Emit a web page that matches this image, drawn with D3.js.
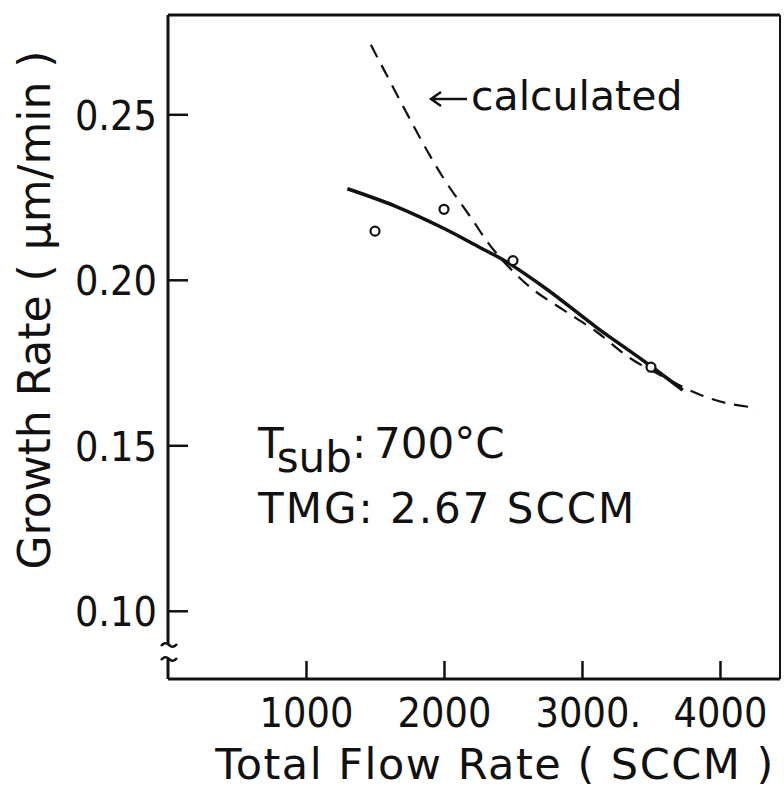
<!DOCTYPE html>
<html>
<head>
<meta charset="utf-8">
<script src="https://cdn.jsdelivr.net/npm/d3@7"></script>
<style>
  body { margin: 0; background: #fff; }
  svg text { fill: #111; font-family: "DejaVu Sans", sans-serif; }
  .tick line { stroke: #111; stroke-width: 2.5; }
</style>
</head>
<body>
<svg id="chart" width="784" height="790"></svg>
<script>
// tick values
const xTicks = [1000, 2000, 3000, 4000];
const yTicks = [0.10, 0.15, 0.20, 0.25];

// measured points (open circles)
const measuredFlow = [1500, 2000, 2500, 3500];
const measuredRate = [0.2147, 0.2213, 0.2058, 0.1736];

// solid fitted curve
const fitFlow = [1300, 1650, 2000, 2250, 2450, 2750, 3100, 3470, 3730];
const fitRate = [0.2275, 0.2222, 0.2155, 0.2100, 0.2055, 0.1970, 0.1858, 0.1748, 0.1667];

// dashed calculated curve
const calcFlow = [1470, 1875, 2020, 2190, 2360, 2620, 2865, 3105, 3350, 3590, 3830, 4050, 4270];
const calcRate = [0.2710, 0.2392, 0.2292, 0.2191, 0.2090, 0.1979, 0.1909, 0.1843, 0.1763, 0.1707, 0.1657, 0.1627, 0.1613];

const svg = d3.select("#chart");

const plotLeft = 168, plotRight = 780, plotTop = 15, plotBottom = 679;

const x = d3.scaleLinear().domain([0, 4435]).range([plotLeft, plotRight]);
const y = d3.scaleLinear().domain([0.08, 0.28]).range([677, plotTop]);

// frame
const frame = svg.append("g")
  .attr("fill", "none")
  .attr("stroke", "#111");

frame.append("line").attr("x1", plotLeft).attr("y1", plotTop).attr("x2", plotRight).attr("y2", plotTop).attr("stroke-width", 3);
frame.append("line").attr("x1", plotRight).attr("y1", plotTop).attr("x2", plotRight).attr("y2", plotBottom).attr("stroke-width", 2);
frame.append("line").attr("x1", plotLeft).attr("y1", plotBottom).attr("x2", plotRight).attr("y2", plotBottom).attr("stroke-width", 3);
frame.append("line").attr("x1", plotLeft).attr("y1", plotTop).attr("x2", plotLeft).attr("y2", 644).attr("stroke-width", 3);
frame.append("line").attr("x1", plotLeft).attr("y1", 659).attr("x2", plotLeft).attr("y2", plotBottom).attr("stroke-width", 3);

// axis break marks
frame.append("path")
  .attr("d", "M161,646 q4,-5 8,-1 t8,-1")
  .attr("stroke-width", 2.5);
frame.append("path")
  .attr("d", "M161,660 q4,-5 8,-1 t8,-1")
  .attr("stroke-width", 2.5);

// y axis
const yAxis = svg.append("g")
  .attr("transform", `translate(${plotLeft},0)`)
  .call(d3.axisLeft(y)
    .tickValues(yTicks)
    .tickSize(-20)
    .tickPadding(11)
    .tickFormat(d3.format(".2f")));
yAxis.select(".domain").remove();
yAxis.selectAll("text")
  .attr("fill", "#111")
  .style("font-family", "'DejaVu Sans Condensed', 'DejaVu Sans', sans-serif")
  .style("font-size", "41px")
  .attr("dy", "0.36em");

// x axis
const xAxis = svg.append("g")
  .attr("transform", `translate(0,${plotBottom})`)
  .call(d3.axisBottom(x)
    .tickValues(xTicks)
    .tickSize(-18)
    .tickPadding(19)
    .tickFormat(d3.format("d")));
xAxis.select(".domain").remove();
xAxis.selectAll("text")
  .attr("fill", "#111")
  .style("font-family", "'DejaVu Sans Condensed', 'DejaVu Sans', sans-serif")
  .style("font-size", "41px");

// the original label reads "3000." - keep the digits centred on the tick
xAxis.selectAll("text")
  .filter(d => d === 3000)
  .each(function() {
    const w = this.getComputedTextLength();
    d3.select(this)
      .attr("text-anchor", "start")
      .attr("x", -w / 2)
      .text("3000.");
  });

// axis titles
svg.append("text")
  .attr("x", 495)
  .attr("y", 779)
  .attr("text-anchor", "middle")
  .style("font-size", "43px")
  .style("letter-spacing", "1.5px")
  .text("Total Flow Rate ( SCCM )");

svg.append("text")
  .attr("transform", "translate(50,310) rotate(-90)")
  .attr("text-anchor", "middle")
  .style("font-size", "44px")
  .text("Growth Rate ( μm/min )");

// curves
const line = d3.line()
  .x(d => x(d[0]))
  .y(d => y(d[1]))
  .curve(d3.curveCatmullRom);

svg.append("path")
  .datum(calcFlow.map((f, i) => [f, calcRate[i]]))
  .attr("fill", "none")
  .attr("stroke", "#111")
  .attr("stroke-width", 2.2)
  .attr("stroke-dasharray", "14,9")
  .attr("d", line);

svg.append("path")
  .datum(fitFlow.map((f, i) => [f, fitRate[i]]))
  .attr("fill", "none")
  .attr("stroke", "#111")
  .attr("stroke-width", 3.5)
  .attr("d", line);

svg.selectAll(".pt")
  .data(measuredFlow.map((f, i) => [f, measuredRate[i]]))
  .enter().append("circle")
  .attr("class", "pt")
  .attr("cx", d => x(d[0]))
  .attr("cy", d => y(d[1]))
  .attr("r", 4.5)
  .attr("fill", "#fff")
  .attr("stroke", "#111")
  .attr("stroke-width", 2.2);

// "calculated" label with arrow
svg.append("path")
  .attr("d", "M467,99 H431 M441,92 L431,99 L441,106")
  .attr("fill", "none")
  .attr("stroke", "#111")
  .attr("stroke-width", 2.5);
svg.append("text")
  .attr("x", 471)
  .attr("y", 110)
  .style("font-size", "41px")
  .text("calculated");

// conditions
const cond = svg.append("text")
  .attr("x", 258)
  .attr("y", 458)
  .style("font-size", "42px");
cond.append("tspan").text("T");
cond.append("tspan").attr("dy", 14).text("sub");
cond.append("tspan").attr("dy", -14).text(":");
cond.append("tspan").attr("dx", 8).text("700°C");

svg.append("text")
  .attr("x", 258)
  .attr("y", 523)
  .style("font-size", "42px")
  .style("letter-spacing", "2px")
  .text("TMG: 2.67 SCCM");
</script>
</body>
</html>
